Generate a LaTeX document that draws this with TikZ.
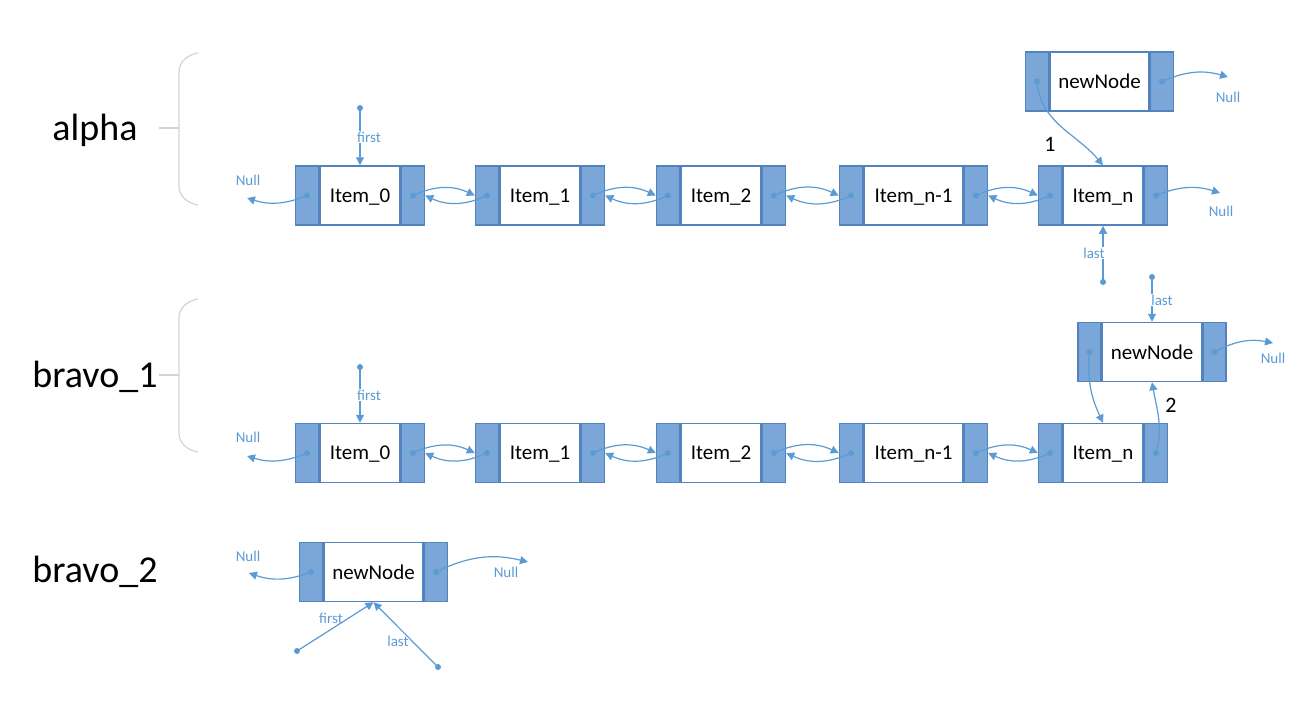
\documentclass[tikz,border=0pt]{standalone}
\usepackage{fontspec}
\setmainfont{Carlito}
\usetikzlibrary{arrows.meta}

\definecolor{cellfill}{RGB}{122,167,216}
\definecolor{cellline}{RGB}{82,131,190}
\definecolor{linkblue}{RGB}{91,155,213}
\definecolor{bracegray}{RGB}{208,212,218}

\tikzset{
  midcell/.style={draw=cellline, line width=1.5pt, fill=white, minimum height=59pt, inner sep=0pt, text depth=0pt, font=\fontsize{21}{24}\selectfont},
  sidecell/.style={draw=cellline, line width=1.5pt, fill=cellfill, minimum width=23pt, minimum height=59pt, inner sep=0pt},
  link/.style={linkblue, line width=1.2pt, -{Triangle[length=8pt, width=8pt]}},
  ptrtxt/.style={text=linkblue, font=\fontsize{15}{17}\selectfont, inner sep=1pt},
  listname/.style={font=\fontsize{38}{42}\selectfont},
  stepno/.style={font=\fontsize{22}{24}\selectfont},
  brace/.style={draw=bracegray, line width=1.2pt},
}

% one list node: name, centre, width of the middle, text
\newcommand{\dlnode}[4]{%
  \node[midcell, minimum width=#3] (#1) at (#2) {#4};
  \node[sidecell, anchor=east] (#1-l) at (#1.west) {};
  \node[sidecell, anchor=west] (#1-r) at (#1.east) {};
}

\begin{document}
\begin{tikzpicture}[x=1pt, y=1pt]
  \useasboundingbox (0,0) rectangle (1313,-705);

  % list names and braces
  \node[listname] (alpha) at (95,-130) {alpha};
  \node[listname] (bravoA) at (95,-377) {bravo\_1};
  \node[listname] (bravoB) at (95,-572) {bravo\_2};
  \draw[brace] (198,-53) to[out=190, in=90] (179,-72) -- (179,-186) to[out=-90, in=170] (198,-205);
  \draw[brace] (159,-128) -- (179,-128);
  \draw[brace] (198,-299) to[out=190, in=90] (179,-318) -- (179,-433) to[out=-90, in=170] (198,-452);
  \draw[brace] (159,-375) -- (179,-375);

  % alpha
  \dlnode{a0}{360,-195.5}{80pt}{Item\_0}
  \dlnode{a1}{540,-195.5}{80pt}{Item\_1}
  \dlnode{a2}{721,-195.5}{80pt}{Item\_2}
  \dlnode{a3}{913.5,-195.5}{99pt}{Item\_n-1}
  \dlnode{a4}{1103,-195.5}{80pt}{Item\_n}
  \dlnode{an}{1099.5,-81.5}{99pt}{newNode}

  % bravo_1
  \dlnode{b0}{360,-453}{80pt}{Item\_0}
  \dlnode{b1}{540,-453}{80pt}{Item\_1}
  \dlnode{b2}{721,-453}{80pt}{Item\_2}
  \dlnode{b3}{913.5,-453}{99pt}{Item\_n-1}
  \dlnode{b4}{1103,-453}{80pt}{Item\_n}
  \dlnode{bn}{1152,-352}{99pt}{newNode}

  % bravo_2
  \dlnode{cn}{373.5,-572}{99pt}{newNode}

  \foreach \p/\q in {a0/a1,a1/a2,a2/a3,a3/a4,b0/b1,b1/b2,b2/b3,b3/b4} {
    \draw[link] (\p-r.center) to[bend left=25] (\q-l.west);
    \draw[link] (\q-l.center) to[bend left=25] (\p-r.east);
  }

  % Null ends
  \coordinate (a0null) at (247,-198);
  \coordinate (a4null) at (1220,-193);
  \coordinate (annull) at (1228,-77);
  \coordinate (b0null) at (247,-456);
  \coordinate (bnnull) at (1273,-343);
  \coordinate (cnnullA) at (249,-573);
  \coordinate (cnnullB) at (528,-562);
  \draw[link] (a0-l.center) to[bend left=20] (a0null);
  \draw[link] (a4-r.center) to[bend left=20] (a4null);
  \draw[link] (an-r.center) to[bend left=20] (annull);
  \draw[link] (b0-l.center) to[bend left=20] (b0null);
  \draw[link] (bn-r.center) to[bend left=20] (bnnull);
  \draw[link] (cn-l.center) to[bend left=20] (cnnullA);
  \draw[link] (cn-r.center) to[bend left=20] (cnnullB);
  \node[ptrtxt] (a0nulltxt) at (248,-180) {Null};
  \node[ptrtxt] (a4nulltxt) at (1221,-211) {Null};
  \node[ptrtxt] (annulltxt) at (1228,-97) {Null};
  \node[ptrtxt] (b0nulltxt) at (248,-437) {Null};
  \node[ptrtxt] (bnnulltxt) at (1273,-358) {Null};
  \node[ptrtxt] (cnnulltxtA) at (248,-556) {Null};
  \node[ptrtxt] (cnnulltxtB) at (506,-572) {Null};

  % first / last
  \coordinate (afirst) at (360,-108);
  \coordinate (alast) at (1103,-282);
  \coordinate (bfirst) at (360,-367);
  \coordinate (blast) at (1152,-277);
  \coordinate (cfirst) at (297,-651);
  \coordinate (clast) at (438,-667);
  \draw[link] (afirst) -- (a0.north);
  \draw[link] (alast) -- (a4.south);
  \draw[link] (bfirst) -- (b0.north);
  \draw[link] (blast) -- (bn.north);
  \draw[link] (cfirst) -- (cn.south);
  \draw[link] (clast) -- (cn.south);
  \node[ptrtxt, fill=white] (afirsttxt) at (369,-137) {first};
  \node[ptrtxt, fill=white] (alasttxt) at (1094,-253) {last};
  \node[ptrtxt, fill=white] (bfirsttxt) at (369,-395) {first};
  \node[ptrtxt, fill=white] (blasttxt) at (1162,-300) {last};
  \node[ptrtxt] (cfirsttxt) at (331,-618) {first};
  \node[ptrtxt] (clasttxt) at (398,-641) {last};

  % steps 1 and 2
  \draw[link] (an-l.center) to[out=-85, in=130] (a4.north);
  \node[stepno] (one) at (1050,-144) {1};
  \draw[link] (bn-l.center) to[out=-95, in=115] (b4.north);
  \draw[link] (b4-r.center) to[out=75, in=-80] (bn.south);
  \node[stepno] (two) at (1171,-405) {2};

  % pointer dots
  \foreach \c in {a0-l,a0-r,a1-l,a1-r,a2-l,a2-r,a3-l,a3-r,a4-l,a4-r,an-l,an-r,
                  b0-l,b0-r,b1-l,b1-r,b2-l,b2-r,b3-l,b3-r,b4-l,b4-r,bn-l,bn-r,
                  cn-l,cn-r,afirst,alast,bfirst,blast,cfirst,clast}
    \fill[linkblue] (\c) circle (3pt);
\end{tikzpicture}
\end{document}
